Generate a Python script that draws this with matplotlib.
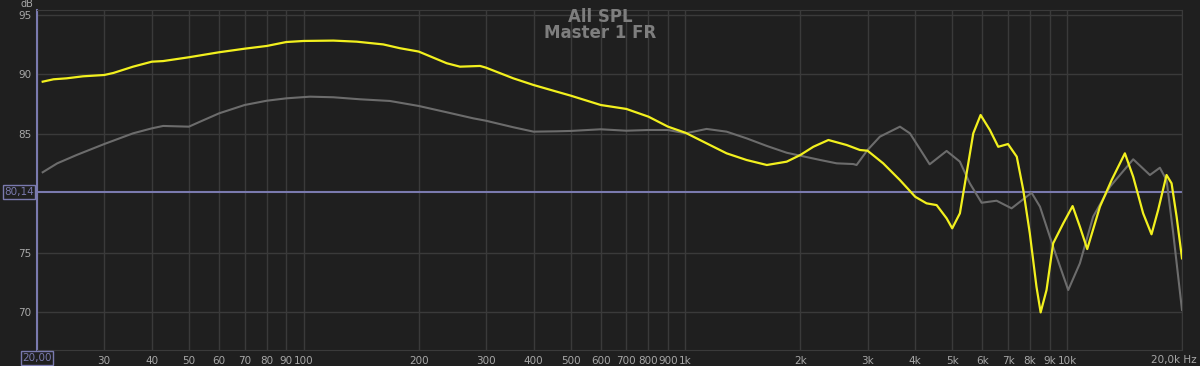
import numpy as np
from matplotlib import pyplot as plt
from matplotlib.ticker import FixedLocator, NullFormatter

# frequency response
yellow_f = [20.7, 22.1, 23.9, 26.4, 30, 31.7, 35.7, 40, 42.8, 50, 60, 70, 80, 90, 100,
            119.5, 137.6, 161.5, 178.6, 200, 236.8, 256.6, 289.6, 300, 354, 400, 460,
            500, 600, 700, 800, 900, 1000, 1159, 1282, 1446, 1634, 1842, 2000, 2163,
            2369, 2644, 2865, 3000, 3297, 3648, 4000, 4283, 4552, 4834, 5000, 5237,
            5454, 5677, 5934, 6276, 6600, 7000, 7380, 7676, 7985, 8313, 8524, 8833,
            9193, 9771, 10337, 10801, 11291, 12190, 13080, 14170, 14900, 15820, 16640,
            17320, 18220, 18780, 19360, 20000]
yellow_db = [89.37, 89.57, 89.65, 89.82, 89.93, 90.1, 90.63, 91.05, 91.1, 91.42, 91.84,
             92.14, 92.37, 92.7, 92.79, 92.82, 92.73, 92.5, 92.18, 91.9, 90.92, 90.63,
             90.69, 90.55, 89.65, 89.09, 88.53, 88.2, 87.41, 87.08, 86.43, 85.59, 85.08,
             84.05, 83.35, 82.79, 82.37, 82.65, 83.21, 83.9, 84.47, 84.05, 83.63, 83.57,
             82.51, 81.1, 79.7, 79.15, 79.0, 77.89, 77.05, 78.31, 81.67, 85.03, 86.57,
             85.31, 83.9, 84.13, 83.07, 80.27, 76.63, 72.14, 69.99, 71.87, 75.79, 77.47,
             78.92, 77.19, 75.31, 78.87, 81.1, 83.35, 81.38, 78.31, 76.55, 78.59, 81.53,
             80.83, 78.03, 74.53]

gray_f = [20.7, 22.6, 25.4, 30, 35.7, 40, 42.8, 50, 53.5, 60, 70, 80, 90, 103.8, 119.5,
          140.4, 168, 200, 236.8, 278, 300, 354, 400, 460, 500, 600, 700, 800, 900, 1000,
          1136, 1282, 1446, 1634, 1842, 2000, 2255, 2490, 2752, 2808, 3000, 3232, 3648,
          3874, 4364, 4834, 5237, 5560, 5970, 6535, 7153, 8071, 8490, 9193, 10068, 10801,
          11700, 12950, 14900, 16480, 17500, 18220, 18970, 20000]
gray_db = [81.76, 82.51, 83.21, 84.13, 85.03, 85.45, 85.65, 85.59, 86.01, 86.71, 87.41,
           87.77, 87.97, 88.11, 88.06, 87.89, 87.75, 87.33, 86.8, 86.29, 86.09, 85.54,
           85.17, 85.2, 85.23, 85.37, 85.25, 85.31, 85.31, 85.03, 85.4, 85.17, 84.61,
           83.97, 83.4, 83.15, 82.79, 82.51, 82.45, 82.37, 83.63, 84.75, 85.59, 85.03,
           82.43, 83.55, 82.65, 80.83, 79.2, 79.37, 78.73, 80.04, 78.87, 75.5, 71.87,
           74.11, 78.03, 80.54, 82.85, 81.53, 82.14, 81.1, 76.63, 70.19]

x_ticks = [20, 30, 40, 50, 60, 70, 80, 90, 100, 200, 300, 400, 500, 600, 700, 800, 900,
           1000, 2000, 3000, 4000, 5000, 6000, 7000, 8000, 9000, 10000, 20000]
x_labels = ['', '30', '40', '50', '60', '70', '80', '90', '100', '200', '300', '400', '500',
            '600', '700', '800', '900', '1k', '2k', '3k', '4k', '5k', '6k', '7k', '8k', '9k',
            '10k', '']
y_ticks = [70, 75, 85, 90, 95]
ref_level = 80.14

bg = '#1f1f1f'
grid = '#3a3a3a'
txt = '#a8a8a8'
lav = '#7a7aae'

fig = plt.figure(figsize=(12, 3.66), dpi=100, facecolor=bg)
ax = fig.add_axes([37 / 1200, 16 / 366, 1145 / 1200, 340 / 366], facecolor=bg)

ax.set_xscale('log')
ax.set_xlim(20, 20000)
ax.set_ylim(66.83, 95.39)

ax.xaxis.set_major_locator(FixedLocator(x_ticks))
ax.xaxis.set_minor_formatter(NullFormatter())
ax.xaxis.set_minor_locator(FixedLocator([]))
ax.set_xticks(x_ticks)
ax.set_xticklabels(x_labels)
ax.set_yticks(y_ticks)
ax.set_yticklabels([str(v) for v in y_ticks])
ax.tick_params(colors=txt, labelsize=7.5, length=0, pad=4)

ax.grid(True, color=grid, linewidth=1)
for s in ['top', 'right', 'bottom']:
    ax.spines[s].set_color(grid)
ax.spines['left'].set_color(lav)
ax.spines['left'].set_linewidth(1.5)

ax.axhline(ref_level, color=lav, linewidth=1.5, zorder=2)

ax.plot(gray_f, gray_db, color='#6c6c6c', linewidth=1.5, zorder=3)
ax.plot(yellow_f, yellow_db, color='#f2f01e', linewidth=1.6, zorder=4)

box = dict(boxstyle='square,pad=0.15', facecolor=bg, edgecolor=lav, linewidth=1)
fig.text(19 / 1200, 1 - 192 / 366, '80,14', color=lav, fontsize=7.5, ha='center',
         va='center', bbox=box)
fig.text(37 / 1200, 1 - 358 / 366, '20,00', color=lav, fontsize=7.5, ha='center',
         va='center', bbox=box)
fig.text(27 / 1200, 1 - 4 / 366, 'dB', color=txt, fontsize=7, ha='center', va='center')
fig.text(1197 / 1200, 1 - 360.5 / 366, '20,0k Hz', color=txt, fontsize=7.5, ha='right',
         va='center')

fig.text(600 / 1200, 1 - 17 / 366, 'All SPL', color='#7e7e7e', fontsize=12,
         fontweight='bold', ha='center', va='center')
fig.text(600 / 1200, 1 - 33 / 366, 'Master 1 FR', color='#7e7e7e', fontsize=12,
         fontweight='bold', ha='center', va='center')

fig.savefig('out.png', dpi=100, facecolor=bg)
